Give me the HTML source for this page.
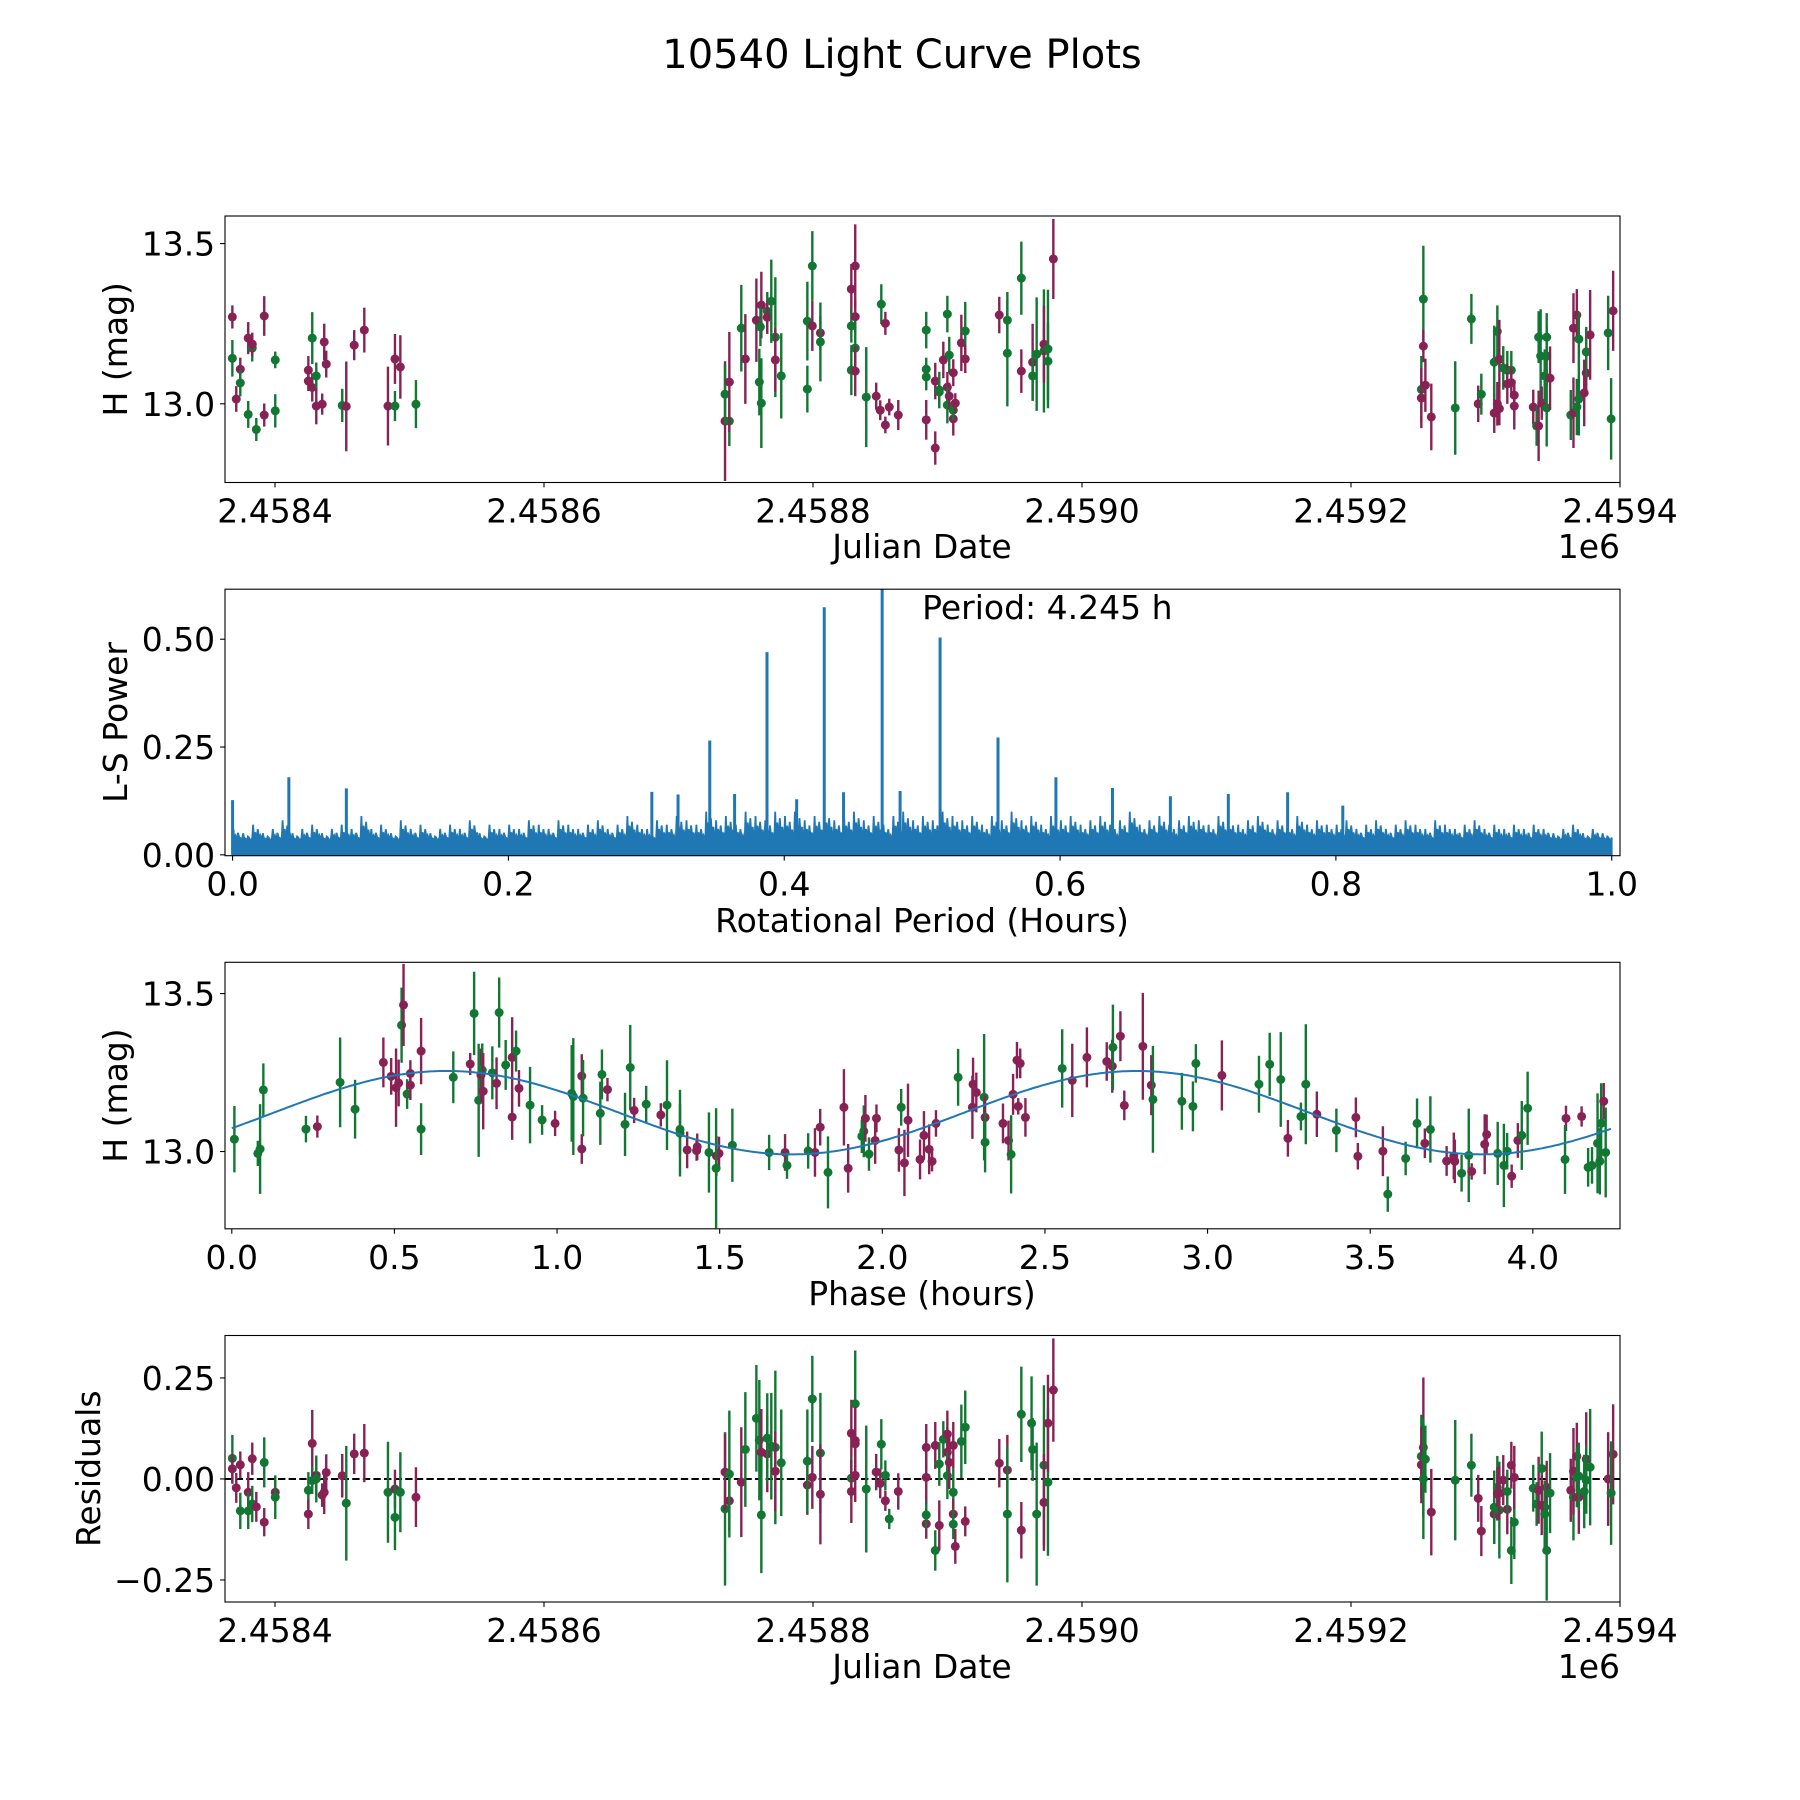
<!DOCTYPE html>
<html><head><meta charset="utf-8"><title>10540 Light Curve Plots</title>
<style>
html,body{margin:0;padding:0;background:#fff;}
svg{display:block;font-family:"DejaVu Sans","Liberation Sans",sans-serif;}
</style></head>
<body>
<svg id="fig" width="1800" height="1800" viewBox="0 0 1800 1800" xmlns="http://www.w3.org/2000/svg">
<rect width="1800" height="1800" fill="#fff"/>
<text x="902" y="68" font-size="40" text-anchor="middle">10540 Light Curve Plots</text>
</svg>
<script>
// ---------------- Panel 1: light curve vs Julian date (JD - 2458000) ----------------
const lcJd   = [368.3,368.3,371.2,374.2,374.2,380.1,380.1,383.1,383.1,386.1,392,392,400.2,400.2,424.8,424.8,427.7,427.7,430.7,430.7,436.6,438.1,435.1,450,453,458.9,466.4,484,489.2,489.2,493.2,504.8,
734.6,734.6,737.8,737.8,746.7,749.7,757.9,760.1,761.6,760.9,761.6,766,766,769,772,772,776.4,795.8,795.8,799.5,799.5,805.5,805.5,828.5,828.5,828.5,831.4,831.4,831.4,831.4,839.6,847,850,853.8,850.8,853.8,856.7,863.4,884.2,884.2,884.2,884.2,890.9,890.9,893.9,893.9,896.9,899.9,899.9,899.9,901.3,901.3,904.3,904.3,904.3,905.8,910.3,913.2,913.2,938.5,944.5,944.5,954.9,954.9,963.3,963.3,966.3,971.7,971.7,974.7,974.7,978.7,
1253.8,1253.8,1252.3,1252.3,1255.3,1259.7,1277.5,1289.5,1294.6,1296.9,1306.5,1306.5,1308.8,1308.8,1310.3,1310.3,1313.2,1316.2,1316.2,1319.2,1319.2,1321.4,1321.4,1335.5,1338,1339.5,1339.5,1341,1341.8,1344,1345.5,1345.5,1345.5,1348,1363.4,1365.4,1365.4,1367.9,1367.9,1369.4,1369.4,1374.9,1374.9,1373.4,1377.8,1391.2,1394.9,1393.4];
const lcMag  = [13.271,13.142,13.015,13.108,13.065,13.205,12.967,13.174,13.186,12.92,13.274,12.965,13.137,12.978,13.105,13.071,13.205,13.051,13.087,12.993,13.193,13.124,12.999,12.995,12.992,13.183,13.23,12.993,12.993,13.14,13.115,12.999,
12.946,13.03,12.946,13.068,13.236,13.14,13.261,13.068,13.308,13.24,13.002,13.289,13.27,13.32,13.208,13.137,13.087,13.046,13.258,13.243,13.43,13.221,13.193,13.358,13.243,13.105,13.43,13.272,13.174,13.102,13.021,13.024,12.98,12.934,13.311,13.251,12.99,12.965,13.23,13.108,13.084,12.95,12.862,13.071,13.037,13.043,13.137,13.28,13.052,12.996,13.152,13.024,13.097,12.953,12.98,13.002,13.19,13.227,13.14,13.277,13.261,13.158,13.392,13.102,13.13,13.087,13.155,13.165,13.186,13.171,13.133,13.452,
13.327,13.18,13.045,13.018,13.058,12.959,12.987,13.265,13.0,13.03,12.971,13.13,13.226,13.0,13.139,12.985,13.112,13.105,13.062,13.105,13.066,13.027,12.993,12.99,12.931,12.931,13.208,13.149,13.002,13.087,13.208,13.149,12.987,13.08,12.965,12.972,13.236,13.277,12.99,13.202,13.015,13.096,13.162,13.034,13.215,13.221,13.29,12.953];
const lcErr  = [.036,.057,.04,.036,.042,.05,.042,.042,.036,.036,.062,.036,.026,.052,.044,.031,.081,.044,.042,.057,.057,.042,.033,.052,.14,.047,.07,.123,.047,.078,.099,.075,
.187,.094,.078,.156,.135,.14,.13,.104,.104,.06,.14,.06,.052,.13,.187,.099,.133,.073,.123,.078,.109,.052,.123,.078,.052,.078,.13,.052,.083,.078,.156,.042,.031,.026,.062,.036,.026,.047,.057,.036,.042,.062,.052,.057,.042,.057,.057,.057,.047,.057,.057,.042,.042,.052,.031,.031,.088,.091,.044,.057,.088,.166,.114,.068,.12,.078,.177,.192,.12,.185,.12,.125,
.166,.05,.104,.094,.083,.104,.146,.078,.057,.064,.062,.114,.081,.068,.123,.052,.068,.06,.062,.06,.047,.047,.073,.054,.062,.11,.081,.146,.052,.083,.075,.094,.12,.099,.078,.11,.109,.081,.088,.083,.114,.062,.078,.104,.14,.116,.125,.127];
const lcBand = "pgppgpgg pgpp ggpp gp gp pp p gp pp p g p p g p g g p".replace(/ /g,"") +
 "gppgpggg pg gpgggpgp gpggpp gpg ppp gppp ggg ppp ggpg pg gp pp g p p g pp g gg pp gg g p g g p g p g p p".replace(/ /g,"") +
 "pggpgpggppp ggpgpp ppgpgg pgggg pgppp ggg pgppgp gppgggpppg".replace(/ /g,"");

// ---------------- Panel 2: Lomb-Scargle periodogram ----------------
const lsNoise = [0.06,0.05,0.07,0.05,0.06,0.08,0.05,0.06,0.07,0.05,0.06,0.07,0.06,0.09,0.06,0.07,0.05,0.08,0.06,0.07,0.05,0.06,0.07,0.06,0.08,0.05,0.07,0.06,
0.07,0.06,0.08,0.07,0.06,0.08,0.07,0.06,0.07,0.08,0.06,0.07,0.09,0.07,0.06,0.08,0.07,0.09,0.08,0.07,0.10,0.08,0.09,0.07,0.10,0.09,0.08,0.10,
0.09,0.10,0.08,0.09,0.10,0.08,0.09,0.10,0.08,0.09,0.07,0.09,0.10,0.08,0.09,0.08,0.10,0.09,0.08,0.09,0.07,0.09,0.08,0.10,0.08,0.09,0.07,0.09,
0.08,0.09,0.07,0.08,0.09,0.07,0.08,0.10,0.07,0.08,0.09,0.07,0.08,0.09,0.08,0.07,0.09,0.08,0.07,0.08,0.09,0.07,0.08,0.07,0.09,0.07,0.08,0.07,
0.07,0.08,0.06,0.07,0.08,0.06,0.07,0.08,0.07,0.06,0.08,0.07,0.06,0.07,0.08,0.06,0.07,0.06,0.07,0.06,0.07,0.06,0.05,0.06,0.07,0.05,0.06,0.05];
const lsFloor = 0.04;
const lsPeakPeriod = [0.0,0.0408,0.0825,0.304,0.323,0.346,0.364,0.3875,0.409,0.429,0.443,0.471,0.484,0.513,0.555,0.597,0.638,0.68,0.722,0.765,0.805];
const lsPeakPower  = [0.127,0.18,0.154,0.146,0.14,0.265,0.141,0.47,0.129,0.574,0.145,0.64,0.148,0.504,0.272,0.18,0.155,0.136,0.141,0.145,0.114];
const lsPeriodLabel = "Period: 4.245 h";

// ---------------- Panel 3: phase-folded light curve ----------------
const phPhase = [0.008,0.08,0.087,0.097,0.228,0.263,0.333,0.379,0.466,0.49,0.505,0.513,0.522,0.528,0.539,0.549,0.549,0.582,0.582,0.681,0.733,0.745,0.759,0.766,0.77,0.773,0.801,0.822,0.814,0.842,0.862,0.862,0.874,0.883,0.917,0.954,0.994,1.045,1.05,1.076,1.076,1.08,1.138,1.133,1.155,1.209,1.225,1.237,1.274,1.319,1.338,1.378,1.378,1.4,
1.431,1.429,1.467,1.49,1.498,1.489,1.539,1.652,1.701,1.707,1.772,1.793,1.809,1.833,1.882,1.895,1.937,1.943,1.948,1.959,1.978,1.982,2.058,2.051,2.068,2.079,2.116,2.128,2.144,2.153,2.165,2.233,2.277,2.279,2.289,2.313,2.316,2.316,2.371,2.388,2.396,2.402,2.418,2.414,2.424,2.44,2.553,2.584,2.629,2.69,2.707,2.709,2.732,2.744,2.801,2.827,2.832,
2.921,2.955,2.964,3.044,3.158,3.191,3.225,3.247,3.287,3.302,3.336,3.396,3.456,3.462,3.539,3.554,3.609,3.644,3.668,3.685,3.735,3.757,3.76,3.781,3.803,3.812,3.852,3.858,3.892,3.911,3.921,3.935,3.954,3.966,3.984,4.102,4.099,4.15,4.17,4.182,4.199,4.206,4.21,4.218,4.224];
const phMag = [13.039,12.994,13.008,13.195,13.071,13.079,13.219,13.134,13.282,13.238,13.202,13.217,13.4,13.464,13.182,13.247,13.21,13.318,13.071,13.235,13.277,13.437,13.162,13.242,13.258,13.191,13.249,13.44,13.216,13.274,13.298,13.109,13.318,13.2,13.147,13.1,13.089,13.184,13.174,13.239,13.008,13.169,13.244,13.121,13.196,13.086,13.266,13.13,13.15,13.116,13.147,13.07,13.058,13.005,
13.015,13.003,12.997,12.986,12.994,12.947,13.02,12.997,12.997,12.956,13.002,12.997,13.077,12.934,13.14,12.947,13.048,13.064,13.105,12.992,13.035,13.105,13.14,13.005,12.964,13.099,12.975,13.051,13.007,12.969,13.089,13.235,13.14,13.213,13.187,13.172,13.108,13.029,13.089,13.035,12.991,13.181,13.143,13.289,13.279,13.108,13.263,13.225,13.298,13.285,13.27,13.33,13.365,13.146,13.333,13.21,13.165,
13.159,13.143,13.279,13.241,13.213,13.276,13.228,13.042,13.111,13.213,13.118,13.067,13.108,12.985,13.001,12.865,12.978,13.089,13.026,13.07,12.97,12.986,12.969,12.931,12.988,12.937,13.023,13.054,12.994,12.956,13.001,12.922,13.035,13.051,13.137,13.105,12.975,13.111,12.95,12.956,13.026,12.969,13.089,13.159,12.997];
const phErr = [.105,.04,.142,.084,.042,.035,.142,.093,.079,.058,.124,.074,.119,.13,.047,.042,.047,.105,.082,.082,.035,.132,.179,.084,.084,.121,.084,.111,.082,.079,.127,.072,.065,.058,.121,.047,.04,.153,.185,.069,.047,.121,.079,.1,.037,.1,.135,.04,.058,.037,.142,.079,.137,.058,
.042,.032,.127,.063,.053,.19,.116,.056,.058,.042,.056,.077,.058,.114,.121,.077,.053,.082,.074,.053,.074,.044,.058,.069,.105,.116,.063,.077,.079,.032,.042,.09,.1,.084,.063,.2,.069,.095,.063,.063,.124,.065,.026,.058,.047,.061,.124,.116,.095,.061,.084,.135,.079,.047,.169,.095,.169,
.09,.079,.061,.111,.09,.1,.15,.058,.044,.19,.072,.069,.063,.042,.079,.056,.053,.079,.047,.105,.047,.074,.069,.058,.148,.026,.095,.063,.1,.132,.058,.037,.055,.109,.116,.04,.109,.032,.061,.058,.158,.105,.127,.058,.142];
const phBandList = ["g","g","g","g","g","p","g","g","p","p","p","p","g","p","g","p","p","p","g","g","p","g","g","p","g","p","g","g","p","g","p","p","g","p","g","g","p","g","g","p","p","g","g","g","p","g","g","p","g","p","g","g","g","p",
"p","p","g","p","p","g","g","g","p","g","g","p","p","g","p","p","g","g","p","g","p","p","g","p","p","p","p","p","p","p","p","g","p","p","p","g","p","g","p","p","g","p","p","p","p","p","g","p","p","p","p","g","p","p","p","p","g",
"g","g","g","p","g","g","g","p","g","g","p","g","p","p","p","g","g","g","p","g","p","p","p","g","g","p","p","p","g","g","g","p","p","g","g","p","g","p","g","g","g","g","g","p","g"];
const fitMean = 13.123, fitAmp = 0.132, fitHalfPeriod = 2.1225, fitPhase0 = 0.129;

// ---------------- Panel 4: residuals ----------------
const rsJd = [368.3,368.3,371.2,374.2,374.2,380.1,380.1,383.1,383.1,386.1,392,392,400.2,400.2,424.8,424.8,427.7,427.7,430.7,430.7,435.1,436.6,438.1,450,453,458.9,466.4,484,489.2,489.2,493.2,504.8,
734.6,734.6,737.8,737.8,746.7,749.7,757.9,760.1,761.6,761.6,766,766,769,772,772,776.4,795.8,795.8,799.5,799.5,805.5,805.5,828.5,828.5,828.5,831.4,831.4,831.4,831.4,839.6,847,850,853.8,850.8,853.8,856.7,863.4,884.2,884.2,884.2,884.2,890.9,890.9,893.9,893.9,896.9,899.9,899.9,899.9,901.3,904.3,904.3,904.3,904.3,905.8,910.3,913.2,913.2,938.5,944.5,944.5,954.9,954.9,963.3,962.5,966.3,971.7,971.7,974.7,974.7,978.7,
1253.8,1252.3,1252.3,1253.8,1255.3,1259.7,1277.5,1289.5,1294.6,1296.9,1306.5,1306.5,1308.8,1308.8,1310.3,1310.3,1313.2,1316.2,1316.2,1319.2,1319.2,1321.4,1321.4,1335.5,1338,1339.5,1341.8,1341.8,1344,1345.5,1344,1345.5,1348,1363.4,1365.4,1365.4,1367.9,1367.9,1369.4,1369.4,1374.9,1374.9,1373.4,1377.8,1391.2,1394.9,1393.4];
const rsVal = [0.051,0.025,-0.022,0.035,-0.079,-0.033,-0.079,0.05,-0.062,-0.069,0.041,-0.107,-0.033,-0.045,-0.028,-0.087,0.088,-0.004,0.009,0,-0.04,-0.033,0.016,0.008,-0.06,0.062,0.064,-0.033,-0.025,-0.095,-0.033,-0.045,
-0.074,0.017,-0.054,0.012,-0.008,0.073,0.15,0.096,0.066,-0.089,0.062,0.101,0.081,0.078,0.019,0.04,-0.015,0.044,0.004,0.198,0.064,-0.038,0.113,0.002,-0.031,0.186,0.095,0.087,0.009,-0.025,0.017,-0.011,-0.054,0.086,0.009,-0.099,-0.031,0.078,0.004,-0.111,-0.089,-0.177,0.083,-0.115,0.037,0.098,0.111,0.066,0.008,0.041,0.083,-0.033,-0.087,-0.112,-0.167,0.093,0.128,-0.105,0.039,0.022,-0.087,0.16,-0.127,0.073,0.138,-0.087,0.034,-0.058,-0.008,0.138,0.22,
0.078,0.056,0.035,0,0.049,-0.082,-0.003,0.034,-0.048,-0.129,-0.087,-0.07,-0.021,-0.037,-0.077,-0.035,-0.003,-0.075,-0.031,0.034,-0.177,-0.107,0.004,-0.023,-0.062,-0.028,0.026,-0.065,-0.07,-0.021,-0.087,-0.177,-0.035,-0.028,-0.045,0.019,0.056,0.004,-0.045,0.007,0.049,-0.003,-0.031,0.029,0,0.061,-0.035];
const rsErr = [.058,.037,.037,.033,.045,.05,.045,.04,.045,.037,.062,.035,.029,.054,.045,.037,.083,.033,.045,.058,.029,.054,.045,.054,.142,.05,.072,.125,.048,.081,.099,.074,
.19,.095,.074,.157,.136,.142,.132,.149,.107,.144,.095,.111,.132,.19,.099,.132,.074,.128,.078,.107,.149,.124,.083,.05,.078,.132,.083,.091,.066,.157,.045,.037,.025,.062,.037,.025,.045,.058,.066,.037,.033,.05,.058,.062,.054,.045,.058,.062,.058,.066,.058,.058,.037,.037,.043,.091,.091,.037,.06,.087,.169,.118,.07,.078,.116,.177,.198,.12,.182,.12,.128,
.173,.103,.095,.149,.083,.107,.149,.078,.058,.062,.074,.091,.078,.066,.12,.066,.062,.062,.054,.058,.083,.091,.078,.058,.054,.083,.091,.074,.066,.066,.083,.124,.099,.078,.107,.107,.083,.074,.091,.083,.116,.083,.091,.144,.116,.124,.128];
const rsBandList = ["g","p","p","p","g","p","g","p","g","p","g","p","p","g","g","p","p","g","p","g","p","p","p","p","g","p","p","g","p","g","g","p",
"g","p","p","g","p","g","g","g","p","g","p","g","g","g","p","g","p","g","p","g","g","p","p","g","p","g","p","p","p","g","p","p","p","g","g","g","p","p","p","p","g","g","p","p","g","g","p","p","g","p","p","g","p","g","p","g","g","p","p","p","g","g","p","g","g","g","g","p","g","p","p",
"p","g","p","g","g","p","g","g","p","p","p","g","g","p","g","p","p","p","g","p","g","g","p","g","g","p","g","p","p","p","g","g","g","p","g","p","p","g","p","g","p","g","g","g","p","p","g"];

// ---------------- tick label arrays ----------------
const jdTicks = [400,600,800,1000,1200,1400];
const jdTickLabels = ["2.4584","2.4586","2.4588","2.4590","2.4592","2.4594"];
const magTicks = [13.0,13.5];
const magTickLabels = ["13.0","13.5"];
const lsXTicks = [0,0.2,0.4,0.6,0.8,1.0];
const lsXTickLabels = ["0.0","0.2","0.4","0.6","0.8","1.0"];
const lsYTicks = [0,0.25,0.5];
const lsYTickLabels = ["0.00","0.25","0.50"];
const phTicks = [0,0.5,1,1.5,2,2.5,3,3.5,4];
const phTickLabels = ["0.0","0.5","1.0","1.5","2.0","2.5","3.0","3.5","4.0"];
const rsTicks = [-0.25,0,0.25];
const rsTickLabels = ["\u22120.25","0.00","0.25"];

// ---------------- drawing ----------------
const NS = "http://www.w3.org/2000/svg";
const svg = document.getElementById("fig");
const PURPLE = "#882255", GREEN = "#117733", BLUE = "#1f77b4";
const FS = 33;
function mk(tag, parent){ const e = document.createElementNS(NS, tag); parent.appendChild(e); return e; }
function setA(e, o){ for (const k in o) e.setAttribute(k, o[k]); }
function lin(d0,d1,p0,p1){ return v => p0 + (v-d0)*(p1-p0)/(d1-d0); }

const L = 225, R = 1620;
const panels = [
  {id:"lightcurve", top:216,    bot:482.5, x0:362.83, x1:1400,  y0:12.7545, y1:13.586},
  {id:"periodogram",top:589.2,  bot:855.7, x0:-0.0055,x1:1.006, y0:-0.002, y1:0.616},
  {id:"phase",      top:962.3,  bot:1228.8,x0:-0.0209,x1:4.268, y0:12.7554,y1:13.599},
  {id:"residuals",  top:1335.5, bot:1602,  x0:362.83, x1:1400,  y0:-0.3045,y1:0.355}
];
panels.forEach(p => { p.sx = lin(p.x0,p.x1,L,R); p.sy = lin(p.y0,p.y1,p.bot,p.top); });

const defs = mk("defs", svg);
panels.forEach(p => {
  const cp = mk("clipPath", defs); cp.setAttribute("id","clip-"+p.id);
  const r = mk("rect", cp); setA(r,{x:L,y:p.top,width:R-L,height:p.bot-p.top});
});

function axesGroup(p){
  const g = mk("g", svg);
  
  
  return g;
}
function plotGroup(p, g){
  const d = mk("g", g); d.setAttribute("clip-path","url(#clip-"+p.id+")");
  
  
  return d;
}
function frame(p, g){
  const r = mk("rect", g); setA(r,{x:L,y:p.top,width:R-L,height:p.bot-p.top,fill:"none",stroke:"#000","stroke-width":1.1});
  
  
}
function xTicks(p, g, vals, labels, nm){
  vals.forEach((v,i) => {
    const x = p.sx(v);
    const t = mk("line", g); setA(t,{x1:x,x2:x,y1:p.bot,y2:p.bot+4.9,stroke:"#000","stroke-width":1.1});
    
    
    const tx = mk("text", g); setA(tx,{x:x,y:p.bot+40,"font-size":FS,"text-anchor":"middle"});
    tx.textContent = labels[i];
    
    
  });
}
function yTicks(p, g, vals, labels, nm){
  vals.forEach((v,i) => {
    const y = p.sy(v);
    const t = mk("line", g); setA(t,{x1:L-4.9,x2:L,y1:y,y2:y,stroke:"#000","stroke-width":1.1});
    
    
    const tx = mk("text", g); setA(tx,{x:L-9.8,y:y+12,"font-size":FS,"text-anchor":"end"});
    tx.textContent = labels[i];
    
    
  });
}
function label(g, txt, x, y, rot, nm){
  const t = mk("text", g);
  setA(t,{x:x,y:y,"font-size":FS,"text-anchor":"middle"});
  if (rot) t.setAttribute("transform","rotate(-90 "+x+" "+y+")");
  t.textContent = txt;
  
  
}
function errPoints(p, d, xs, ys, es, bands, nm){
  for (let i=0;i<xs.length;i++){
    const c = bands[i]==="p" ? PURPLE : GREEN;
    const x = p.sx(xs[i]);
    const b = mk("line", d); setA(b,{x1:x,x2:x,y1:p.sy(ys[i]-es[i]),y2:p.sy(ys[i]+es[i]),stroke:c,"stroke-width":2.4});
    
    
    const m = mk("circle", d); setA(m,{cx:x,cy:p.sy(ys[i]),r:4.5,fill:c});
    
    
  }
}

// Panel 1
(function(){
  const p = panels[0], g = axesGroup(p), d = plotGroup(p, g);
  errPoints(p, d, lcJd, lcMag, lcErr, lcBand.split(""), "lightcurve");
  frame(p, g);
  xTicks(p, g, jdTicks, jdTickLabels, "jd-x");
  yTicks(p, g, magTicks, magTickLabels, "mag-y");
  label(g, "Julian Date", 922, 558, false, "x-axis-title-julian-date");
  label(g, "H (mag)", 127, p.top+(p.bot-p.top)/2, true, "y-axis-title-mag");
  const off = mk("text", g); setA(off,{x:R,y:558,"font-size":FS,"text-anchor":"end"}); off.textContent = "1e6";
  
  
})();

// Panel 2
(function(){
  const p = panels[1], g = axesGroup(p), d = plotGroup(p, g);
  const n = lsNoise.length;
  let pts = [[p.sx(0), p.sy(0)]];
  for (let i=0;i<n;i++){
    const a = i/n, w = 1/n;
    pts.push([p.sx(a), p.sy(lsFloor)]);
    pts.push([p.sx(a+0.08*w), p.sy(lsNoise[i])]);
    pts.push([p.sx(a+0.16*w), p.sy(lsFloor)]);
    pts.push([p.sx(a+0.3*w), p.sy(lsNoise[i]*0.75)]);
    pts.push([p.sx(a+0.42*w), p.sy(lsFloor*0.8)]);
    pts.push([p.sx(a+0.55*w), p.sy(lsNoise[i]*0.85)]);
    pts.push([p.sx(a+0.68*w), p.sy(lsFloor)]);
    pts.push([p.sx(a+0.8*w), p.sy(lsNoise[i]*0.65)]);
    pts.push([p.sx(a+0.92*w), p.sy(lsFloor*0.9)]);
  }
  pts.push([p.sx(1), p.sy(lsFloor)]);
  pts.push([p.sx(1), p.sy(0)]);
  const poly = mk("polygon", d);
  setA(poly,{points:pts.map(q=>q[0].toFixed(1)+","+q[1].toFixed(1)).join(" "),fill:BLUE,stroke:BLUE,"stroke-width":1.8,"stroke-linejoin":"miter"});
  
  
  for (let i=0;i<lsPeakPeriod.length;i++){
    const x = p.sx(lsPeakPeriod[i]);
    const s = mk("line", d); setA(s,{x1:x,x2:x,y1:p.sy(0),y2:p.sy(lsPeakPower[i]),stroke:BLUE,"stroke-width":3});
    
    
  }
  frame(p, g);
  xTicks(p, g, lsXTicks, lsXTickLabels, "period-x");
  yTicks(p, g, lsYTicks, lsYTickLabels, "power-y");
  label(g, "Rotational Period (Hours)", 922, 932, false, "x-axis-title-period");
  label(g, "L-S Power", 127, p.top+(p.bot-p.top)/2, true, "y-axis-title-power");
  const t = mk("text", g); setA(t,{x:p.sx(0.5),y:619,"font-size":FS}); t.textContent = lsPeriodLabel;
  
  
})();

// Panel 3
(function(){
  const p = panels[2], g = axesGroup(p), d = plotGroup(p, g);
  errPoints(p, d, phPhase, phMag, phErr, phBandList, "phase");
  let pts = [];
  for (let x=0; x<=4.245; x+=0.01){
    const m = fitMean + fitAmp*Math.sin(2*Math.PI*(x-fitPhase0)/fitHalfPeriod);
    pts.push(p.sx(x).toFixed(1)+","+p.sy(m).toFixed(1));
  }
  const pl = mk("polyline", d); setA(pl,{points:pts.join(" "),fill:"none",stroke:BLUE,"stroke-width":2});
  
  
  frame(p, g);
  xTicks(p, g, phTicks, phTickLabels, "phase-x");
  yTicks(p, g, magTicks, magTickLabels, "phase-mag-y");
  label(g, "Phase (hours)", 922, 1305, false, "x-axis-title-phase");
  label(g, "H (mag)", 127, p.top+(p.bot-p.top)/2, true, "y-axis-title-phase-mag");
})();

// Panel 4
(function(){
  const p = panels[3], g = axesGroup(p), d = plotGroup(p, g);
  const z = mk("line", d); setA(z,{x1:L,x2:R,y1:p.sy(0),y2:p.sy(0),stroke:"#000","stroke-width":2,"stroke-dasharray":"7.4,3.2"});
  
  
  errPoints(p, d, rsJd, rsVal, rsErr, rsBandList, "residual");
  frame(p, g);
  xTicks(p, g, jdTicks, jdTickLabels, "residual-jd-x");
  yTicks(p, g, rsTicks, rsTickLabels, "residual-y");
  label(g, "Julian Date", 922, 1678, false, "x-axis-title-residual-julian-date");
  label(g, "Residuals", 100, p.top+(p.bot-p.top)/2, true, "y-axis-title-residuals");
  const off = mk("text", g); setA(off,{x:R,y:1678,"font-size":FS,"text-anchor":"end"}); off.textContent = "1e6";
  
  
})();
</script>
</body></html>
